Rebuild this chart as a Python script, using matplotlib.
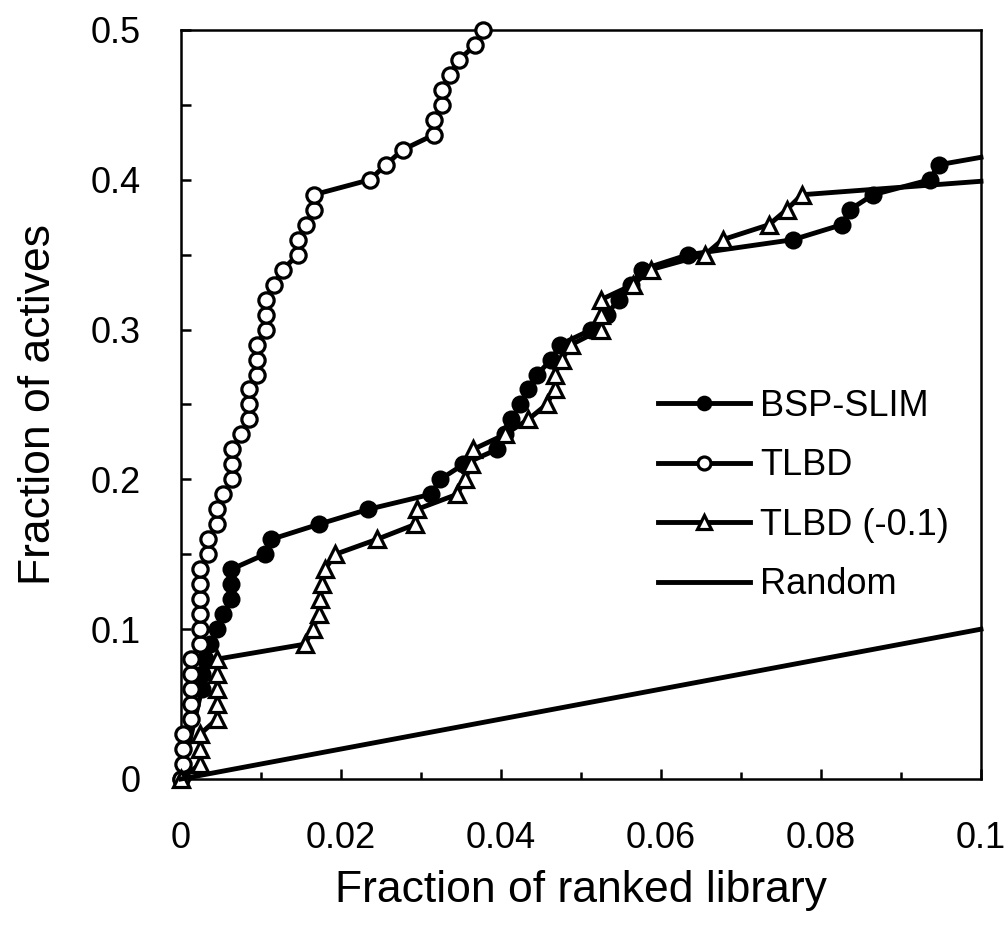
import matplotlib
matplotlib.use("Agg")
import matplotlib.pyplot as plt
from matplotlib.ticker import MultipleLocator, FuncFormatter

plt.rcParams['font.family'] = ['Liberation Sans', 'DejaVu Sans']

# BSP-SLIM (filled circles)
bsp_x = [0, 0.0026, 0.0026, 0.0030, 0.0036, 0.0045, 0.0053, 0.0063, 0.0063, 0.0063,
         0.0105, 0.0113, 0.0172, 0.0234, 0.0312, 0.0324, 0.0353, 0.0395, 0.0405, 0.0413,
         0.0424, 0.0434, 0.0445, 0.0463, 0.0474, 0.0513, 0.0532, 0.0547, 0.0563, 0.0576,
         0.0634, 0.0765, 0.0826, 0.0836, 0.0865, 0.0936, 0.0947, 0.1]
bsp_y = [0, 0.06, 0.07, 0.08, 0.09, 0.10, 0.11, 0.12, 0.13, 0.14,
         0.15, 0.16, 0.17, 0.18, 0.19, 0.20, 0.21, 0.22, 0.23, 0.24,
         0.25, 0.26, 0.27, 0.28, 0.29, 0.30, 0.31, 0.32, 0.33, 0.34,
         0.35, 0.36, 0.37, 0.38, 0.39, 0.40, 0.41, 0.415]

# TLBD (open circles)
tlbd_x = [0, 0.0003, 0.0003, 0.0003,
          0.0013, 0.0013, 0.0013, 0.0013, 0.0013,
          0.0024, 0.0024, 0.0024, 0.0024, 0.0024, 0.0024,
          0.0034, 0.0034, 0.0045, 0.0045, 0.0053,
          0.0064, 0.0064, 0.0064, 0.0075,
          0.0085, 0.0085, 0.0085, 0.0095, 0.0095, 0.0095,
          0.0106, 0.0106, 0.0106, 0.0116, 0.0127,
          0.0146, 0.0146, 0.0156, 0.0166, 0.0166,
          0.0236, 0.0256, 0.0277, 0.0316, 0.0316, 0.0326, 0.0326,
          0.0336, 0.0347, 0.0368, 0.0378]
tlbd_y = [round(0.01 * i, 2) for i in range(51)]

# TLBD (-0.1) (open triangles)
tlbd01_x = [0, 0.0024, 0.0024, 0.0024,
            0.0045, 0.0045, 0.0045, 0.0045, 0.0045,
            0.0155, 0.0165, 0.0172, 0.0174, 0.0176, 0.0180,
            0.0193, 0.0245, 0.0293, 0.0295, 0.0345, 0.0355, 0.0363, 0.0365,
            0.0405, 0.0434, 0.0457, 0.0467, 0.0467, 0.0476, 0.0488,
            0.0525, 0.0525, 0.0525, 0.0565, 0.0587, 0.0655, 0.0677,
            0.0735, 0.0757, 0.0776, 0.1]
tlbd01_y = [round(0.01 * i, 2) for i in range(40)] + [0.399]

# Random
rand_x = [0, 0.1]
rand_y = [0, 0.1]

fig = plt.figure(figsize=(10.08, 9.31), dpi=100)
ax = fig.add_axes([0.1796, 0.1633, 0.7936, 0.8045])

lw = 3.5
ms = 11.5
ax.plot(bsp_x, bsp_y, color='black', lw=lw, marker='o', ms=ms,
        mfc='black', mec='black', mew=1.5, markevery=slice(0, -1),
        label='BSP-SLIM', clip_on=False, zorder=3)
ax.plot(tlbd_x, tlbd_y, color='black', lw=lw, marker='o', ms=ms - 0.5,
        mfc='white', mec='black', mew=2.3, label='TLBD', clip_on=False, zorder=4)
ax.plot(tlbd01_x, tlbd01_y, color='black', lw=lw, marker='^', ms=ms,
        mfc='white', mec='black', mew=2.3, markevery=slice(0, -1),
        label='TLBD (-0.1)', clip_on=False, zorder=5)
ax.plot(rand_x, rand_y, color='black', lw=lw, label='Random', clip_on=False, zorder=6)

ax.set_xlim(0, 0.1)
ax.set_ylim(0, 0.5)
ax.xaxis.set_major_locator(MultipleLocator(0.02))
ax.xaxis.set_minor_locator(MultipleLocator(0.01))
ax.yaxis.set_major_locator(MultipleLocator(0.1))
ax.yaxis.set_minor_locator(MultipleLocator(0.05))


def fmt(v, pos):
    return ('%.2f' % v).rstrip('0').rstrip('.')


ax.xaxis.set_major_formatter(FuncFormatter(fmt))
ax.yaxis.set_major_formatter(FuncFormatter(fmt))

for sp in ax.spines.values():
    sp.set_linewidth(1.8)
ax.tick_params(axis='both', which='both', direction='in', width=1.8, labelsize=26)
ax.tick_params(axis='x', which='major', length=7, pad=30)
ax.tick_params(axis='x', which='minor', length=5)
ax.tick_params(axis='y', which='both', length=7, pad=29)

ax.set_xlabel('Fraction of ranked library', fontsize=32, labelpad=10)
ax.set_ylabel('Fraction of actives', fontsize=32, labelpad=23)

ax.legend(loc='upper left', bbox_to_anchor=(0.596, 0.521), frameon=False,
          fontsize=26, handlelength=2.55, handletextpad=0.28, labelspacing=0.68,
          borderpad=0, borderaxespad=0, markerscale=0.85)

fig.savefig('out.png', dpi=100)
